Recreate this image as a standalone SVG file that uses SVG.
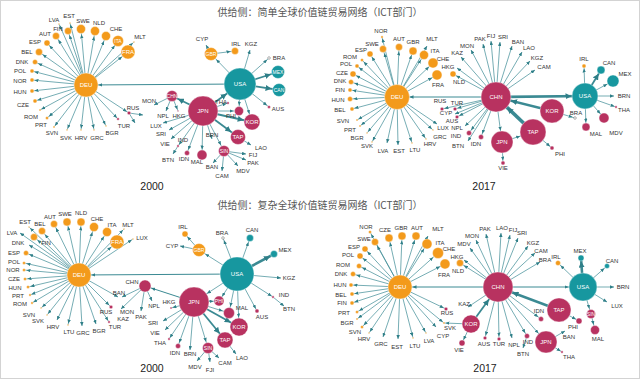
<svg xmlns="http://www.w3.org/2000/svg" width="641" height="381" viewBox="0 0 641 381">
<style>
.e{stroke:#3b8a93;stroke-width:0.7;fill:none}
.k1{stroke-width:1}
.k2{stroke-width:1.8}
.k3{stroke-width:2.6}
.k4{stroke-width:3.6}
.o{fill:#f39a1b;stroke:#fff;stroke-width:0.4}
.t{fill:#17979f;stroke:#fff;stroke-width:0.4}
.c{fill:#b83260;stroke:#fff;stroke-width:0.4}
.h{fill:#fff;stroke:#666;stroke-width:0.5}
text{font-family:"Liberation Sans",Arial,sans-serif;font-size:6px;fill:#333;text-anchor:middle}
text.w{fill:#fff}
text.s{font-size:5px}
text.y{font-size:10.5px;fill:#222}
text.ti{font-family:"Noto Sans CJK SC","Liberation Sans",sans-serif;font-size:10px;fill:#555}
</style>
<defs>
<path id="ah" d="M0,0 L4,1.75 L0,3.5 z" fill="#2f7f88"/>
<path id="bh" d="M0,0 L6,3 L0,6 z" fill="#2f7f88"/>
<marker id="m0" markerUnits="userSpaceOnUse" markerWidth="4" markerHeight="3.5" refX="4" refY="1.75" orient="auto"><use href="#ah"/></marker>
<marker id="m1" markerUnits="userSpaceOnUse" markerWidth="4" markerHeight="3.5" refX="5.5" refY="1.75" orient="auto"><use href="#ah"/></marker>
<marker id="m2" markerUnits="userSpaceOnUse" markerWidth="4" markerHeight="3.5" refX="6.5" refY="1.75" orient="auto"><use href="#ah"/></marker>
<marker id="m3" markerUnits="userSpaceOnUse" markerWidth="4" markerHeight="3.5" refX="7.5" refY="1.75" orient="auto"><use href="#ah"/></marker>
<marker id="m4" markerUnits="userSpaceOnUse" markerWidth="4" markerHeight="3.5" refX="8.5" refY="1.75" orient="auto"><use href="#ah"/></marker>
<marker id="m5" markerUnits="userSpaceOnUse" markerWidth="4" markerHeight="3.5" refX="9.5" refY="1.75" orient="auto"><use href="#ah"/></marker>
<marker id="m6" markerUnits="userSpaceOnUse" markerWidth="4" markerHeight="3.5" refX="10.5" refY="1.75" orient="auto"><use href="#ah"/></marker>
<marker id="m7" markerUnits="userSpaceOnUse" markerWidth="4" markerHeight="3.5" refX="11.5" refY="1.75" orient="auto"><use href="#ah"/></marker>
<marker id="m8" markerUnits="userSpaceOnUse" markerWidth="4" markerHeight="3.5" refX="12.5" refY="1.75" orient="auto"><use href="#ah"/></marker>
<marker id="m9" markerUnits="userSpaceOnUse" markerWidth="4" markerHeight="3.5" refX="13.5" refY="1.75" orient="auto"><use href="#ah"/></marker>
<marker id="m11" markerUnits="userSpaceOnUse" markerWidth="4" markerHeight="3.5" refX="15.5" refY="1.75" orient="auto"><use href="#ah"/></marker>
<marker id="m12" markerUnits="userSpaceOnUse" markerWidth="4" markerHeight="3.5" refX="16.5" refY="1.75" orient="auto"><use href="#ah"/></marker>
<marker id="m13" markerUnits="userSpaceOnUse" markerWidth="4" markerHeight="3.5" refX="17.5" refY="1.75" orient="auto"><use href="#ah"/></marker>
<marker id="m14" markerUnits="userSpaceOnUse" markerWidth="4" markerHeight="3.5" refX="18.5" refY="1.75" orient="auto"><use href="#ah"/></marker>
<marker id="m15" markerUnits="userSpaceOnUse" markerWidth="4" markerHeight="3.5" refX="19.5" refY="1.75" orient="auto"><use href="#ah"/></marker>
<marker id="m17" markerUnits="userSpaceOnUse" markerWidth="4" markerHeight="3.5" refX="21.5" refY="1.75" orient="auto"><use href="#ah"/></marker>
<marker id="b3" markerUnits="userSpaceOnUse" markerWidth="6" markerHeight="6" refX="9.5" refY="3" orient="auto"><use href="#bh"/></marker>
<marker id="b4" markerUnits="userSpaceOnUse" markerWidth="6" markerHeight="6" refX="10.5" refY="3" orient="auto"><use href="#bh"/></marker>
<marker id="b6" markerUnits="userSpaceOnUse" markerWidth="6" markerHeight="6" refX="12.5" refY="3" orient="auto"><use href="#bh"/></marker>
<marker id="b7" markerUnits="userSpaceOnUse" markerWidth="6" markerHeight="6" refX="13.5" refY="3" orient="auto"><use href="#bh"/></marker>
<marker id="b8" markerUnits="userSpaceOnUse" markerWidth="6" markerHeight="6" refX="14.5" refY="3" orient="auto"><use href="#bh"/></marker>
<marker id="b9" markerUnits="userSpaceOnUse" markerWidth="6" markerHeight="6" refX="15.5" refY="3" orient="auto"><use href="#bh"/></marker>
<marker id="b13" markerUnits="userSpaceOnUse" markerWidth="6" markerHeight="6" refX="19.5" refY="3" orient="auto"><use href="#bh"/></marker>
<marker id="b15" markerUnits="userSpaceOnUse" markerWidth="6" markerHeight="6" refX="21.5" refY="3" orient="auto"><use href="#bh"/></marker>
<marker id="b16" markerUnits="userSpaceOnUse" markerWidth="6" markerHeight="6" refX="22.5" refY="3" orient="auto"><use href="#bh"/></marker>
</defs>
<rect x="0.5" y="0.5" width="639" height="378" fill="#fff" stroke="#d3d3d3"/>
<text class="ti" x="320" y="16">供给侧：简单全球价值链贸易网络（ICT部门）</text>
<text class="ti" x="320" y="209">供给侧：复杂全球价值链贸易网络（ICT部门）</text>
<text class="y" x="152" y="190">2000</text>
<text class="y" x="484" y="190">2017</text>
<text class="y" x="152" y="372">2000</text>
<text class="y" x="485" y="372">2017</text>

<g id="connectors">
<!-- panel 1 -->
<g id="p1-edges">
<line class="e" x1="86" y1="85" x2="59" y2="24" marker-end="url(#m1)"/>
<line class="e" x1="86" y1="85" x2="70" y2="23" marker-end="url(#m1)"/>
<line class="e" x1="86" y1="85" x2="68" y2="31" marker-end="url(#m4)"/>
<line class="e" x1="86" y1="85" x2="56" y2="36" marker-end="url(#m4)"/>
<line class="e" x1="86" y1="85" x2="81" y2="29" marker-end="url(#m5)"/>
<line class="e" x1="86" y1="85" x2="95" y2="31" marker-end="url(#m5)"/>
<line class="e" x1="86" y1="85" x2="106" y2="36" marker-end="url(#m5)"/>
<line class="e" x1="86" y1="85" x2="118" y2="41" marker-end="url(#m5)"/>
<line class="e" x1="86" y1="85" x2="128" y2="52" marker-end="url(#m7)"/>
<line class="e" x1="86" y1="85" x2="134" y2="42" marker-end="url(#m1)"/>
<line class="e" x1="86" y1="85" x2="47" y2="43" marker-end="url(#m3)"/>
<line class="e" x1="86" y1="85" x2="39" y2="52" marker-end="url(#m4)"/>
<line class="e" x1="86" y1="85" x2="35" y2="62" marker-end="url(#m3)"/>
<line class="e" x1="86" y1="85" x2="32" y2="71" marker-end="url(#m2)"/>
<line class="e" x1="86" y1="85" x2="32" y2="80" marker-end="url(#m2)"/>
<line class="e" x1="86" y1="85" x2="32" y2="91" marker-end="url(#m2)"/>
<line class="e" x1="86" y1="85" x2="35" y2="101" marker-end="url(#m2)"/>
<line class="e" x1="86" y1="85" x2="40" y2="110" marker-end="url(#m1)"/>
<line class="e" x1="86" y1="85" x2="47" y2="118" marker-end="url(#m2)"/>
<line class="e" x1="86" y1="85" x2="54" y2="127" marker-end="url(#m1)"/>
<line class="e" x1="86" y1="85" x2="67" y2="130" marker-end="url(#m1)"/>
<line class="e" x1="86" y1="85" x2="81" y2="130" marker-end="url(#m1)"/>
<line class="e" x1="86" y1="85" x2="94" y2="130" marker-end="url(#m1)"/>
<line class="e" x1="86" y1="85" x2="106" y2="126" marker-end="url(#m1)"/>
<line class="e" x1="86" y1="85" x2="118" y2="119" marker-end="url(#m1)"/>
<line class="e" x1="86" y1="85" x2="129" y2="113" marker-end="url(#m2)"/>
<line class="e" x1="129" y1="113" x2="143" y2="115" marker-end="url(#m0)"/>
<line class="e" x1="129" y1="113" x2="135" y2="123" marker-end="url(#m0)"/>
<line class="e k1" x1="240" y1="84" x2="86" y2="85" marker-end="url(#m12)"/>
<line class="e" x1="240" y1="84" x2="211" y2="54" marker-end="url(#m7)"/>
<line class="e" x1="211" y1="54" x2="206" y2="45" marker-end="url(#m0)"/>
<line class="e" x1="211" y1="54" x2="235" y2="51" marker-end="url(#m4)"/>
<line class="e" x1="240" y1="84" x2="250" y2="50" marker-end="url(#m0)"/>
<line class="e" x1="240" y1="84" x2="269" y2="58" marker-end="url(#m2)"/>
<line class="e k2" x1="240" y1="84" x2="278" y2="72" marker-end="url(#b7)"/>
<line class="e k2" x1="240" y1="84" x2="279" y2="90" marker-end="url(#b7)"/>
<line class="e" x1="240" y1="84" x2="269" y2="107" marker-end="url(#m2)"/>
<line class="e" x1="240" y1="84" x2="252" y2="122" marker-end="url(#m8)"/>
<line class="e" x1="240" y1="84" x2="239" y2="111" marker-end="url(#m5)"/>
<line class="e k2" x1="203" y1="111" x2="240" y2="84" marker-end="url(#b16)"/>
<line class="e k2" x1="203" y1="111" x2="172" y2="96" marker-end="url(#b6)"/>
<line class="e" x1="172" y1="96" x2="154" y2="105" marker-end="url(#m0)"/>
<line class="e" x1="172" y1="96" x2="166" y2="111" marker-end="url(#m0)"/>
<line class="e" x1="172" y1="96" x2="178" y2="111" marker-end="url(#m1)"/>
<line class="e" x1="203" y1="111" x2="163" y2="123" marker-end="url(#m0)"/>
<line class="e" x1="203" y1="111" x2="169" y2="130" marker-end="url(#m0)"/>
<line class="e" x1="203" y1="111" x2="171" y2="139" marker-end="url(#m0)"/>
<line class="e" x1="203" y1="111" x2="178" y2="146" marker-end="url(#m1)"/>
<line class="e" x1="178" y1="146" x2="173" y2="154" marker-end="url(#m0)"/>
<line class="e" x1="203" y1="111" x2="187" y2="153" marker-end="url(#m3)"/>
<line class="e" x1="203" y1="111" x2="202" y2="155" marker-end="url(#m5)"/>
<line class="e" x1="203" y1="111" x2="212" y2="139" marker-end="url(#m0)"/>
<line class="e" x1="203" y1="111" x2="224" y2="151" marker-end="url(#m6)"/>
<line class="e k2" x1="203" y1="111" x2="238" y2="137" marker-end="url(#b8)"/>
<line class="e k2" x1="203" y1="111" x2="252" y2="122" marker-end="url(#b8)"/>
<line class="e" x1="203" y1="111" x2="239" y2="111" marker-end="url(#m5)"/>
<line class="e" x1="203" y1="111" x2="228" y2="103" marker-end="url(#m1)"/>
<line class="e" x1="224" y1="151" x2="213" y2="163" marker-end="url(#m0)"/>
<line class="e" x1="224" y1="151" x2="222" y2="171" marker-end="url(#m0)"/>
<line class="e" x1="224" y1="151" x2="238" y2="166" marker-end="url(#m0)"/>
<line class="e" x1="224" y1="151" x2="246" y2="160" marker-end="url(#m0)"/>
<line class="e" x1="224" y1="151" x2="246" y2="154" marker-end="url(#m0)"/>
<line class="e" x1="238" y1="137" x2="251" y2="145" marker-end="url(#m0)"/>
</g>
<!-- panel 2 -->
<g id="p2-edges">
<line class="e" x1="397" y1="97" x2="382" y2="37" marker-end="url(#m1)"/>
<line class="e" x1="397" y1="97" x2="383" y2="49" marker-end="url(#m4)"/>
<line class="e" x1="397" y1="97" x2="370" y2="54" marker-end="url(#m3)"/>
<line class="e" x1="397" y1="97" x2="362" y2="60" marker-end="url(#m2)"/>
<line class="e" x1="397" y1="97" x2="357" y2="66" marker-end="url(#m2)"/>
<line class="e" x1="397" y1="97" x2="353" y2="74" marker-end="url(#m3)"/>
<line class="e" x1="397" y1="97" x2="351" y2="82" marker-end="url(#m3)"/>
<line class="e" x1="397" y1="97" x2="350" y2="90" marker-end="url(#m2)"/>
<line class="e" x1="397" y1="97" x2="350" y2="99" marker-end="url(#m3)"/>
<line class="e" x1="397" y1="97" x2="352" y2="109" marker-end="url(#m2)"/>
<line class="e" x1="397" y1="97" x2="357" y2="120" marker-end="url(#m1)"/>
<line class="e" x1="397" y1="97" x2="360" y2="126" marker-end="url(#m1)"/>
<line class="e" x1="397" y1="97" x2="367" y2="133" marker-end="url(#m1)"/>
<line class="e" x1="397" y1="97" x2="372" y2="142" marker-end="url(#m1)"/>
<line class="e" x1="397" y1="97" x2="387" y2="143" marker-end="url(#m0)"/>
<line class="e" x1="397" y1="97" x2="398" y2="145" marker-end="url(#m0)"/>
<line class="e" x1="397" y1="97" x2="412" y2="143" marker-end="url(#m1)"/>
<line class="e" x1="397" y1="97" x2="426" y2="139" marker-end="url(#m1)"/>
<line class="e" x1="397" y1="97" x2="433" y2="130" marker-end="url(#m1)"/>
<line class="e" x1="397" y1="97" x2="437" y2="124" marker-end="url(#m0)"/>
<line class="e" x1="397" y1="97" x2="399" y2="47" marker-end="url(#m4)"/>
<line class="e" x1="397" y1="97" x2="413" y2="51" marker-end="url(#m4)"/>
<line class="e" x1="397" y1="97" x2="427" y2="46" marker-end="url(#m0)"/>
<line class="e" x1="397" y1="97" x2="424" y2="55" marker-end="url(#m5)"/>
<line class="e" x1="397" y1="97" x2="433" y2="63" marker-end="url(#m5)"/>
<line class="e" x1="397" y1="97" x2="437" y2="75" marker-end="url(#m5)"/>
<line class="e k1" x1="496" y1="97" x2="397" y2="97" marker-end="url(#m12)"/>
<line class="e" x1="496" y1="97" x2="453" y2="74" marker-end="url(#m3)"/>
<line class="e" x1="496" y1="97" x2="457" y2="68" marker-end="url(#m0)"/>
<line class="e" x1="496" y1="97" x2="461" y2="57" marker-end="url(#m0)"/>
<line class="e" x1="496" y1="97" x2="471" y2="50" marker-end="url(#m0)"/>
<line class="e" x1="496" y1="97" x2="483" y2="44" marker-end="url(#m0)"/>
<line class="e" x1="496" y1="97" x2="491" y2="41" marker-end="url(#m0)"/>
<line class="e" x1="496" y1="97" x2="500" y2="42" marker-end="url(#m0)"/>
<line class="e" x1="496" y1="97" x2="512" y2="46" marker-end="url(#m0)"/>
<line class="e" x1="496" y1="97" x2="522" y2="52" marker-end="url(#m0)"/>
<line class="e" x1="496" y1="97" x2="530" y2="61" marker-end="url(#m0)"/>
<line class="e" x1="496" y1="97" x2="535" y2="70" marker-end="url(#m0)"/>
<line class="e" x1="496" y1="97" x2="442" y2="109" marker-end="url(#m2)"/>
<line class="e" x1="496" y1="97" x2="455" y2="109" marker-end="url(#m2)"/>
<line class="e" x1="496" y1="97" x2="455" y2="114" marker-end="url(#m0)"/>
<line class="e" x1="496" y1="97" x2="457" y2="117" marker-end="url(#m2)"/>
<line class="e" x1="496" y1="97" x2="465" y2="126" marker-end="url(#m0)"/>
<line class="e" x1="496" y1="97" x2="469" y2="133" marker-end="url(#m3)"/>
<line class="e" x1="496" y1="97" x2="468" y2="141" marker-end="url(#m0)"/>
<line class="e" x1="496" y1="97" x2="481" y2="137" marker-end="url(#m3)"/>
<line class="e" x1="496" y1="97" x2="502" y2="142" marker-end="url(#m11)"/>
<line class="e k3" x1="496" y1="97" x2="585" y2="96" marker-end="url(#b13)"/>
<line class="e k3" x1="552" y1="111" x2="496" y2="97" marker-end="url(#b15)"/>
<line class="e k4" x1="533" y1="132" x2="496" y2="97" marker-end="url(#b15)"/>
<line class="e" x1="502" y1="142" x2="533" y2="132" marker-end="url(#m13)"/>
<line class="e" x1="552" y1="111" x2="575" y2="118" marker-end="url(#m2)"/>
<line class="e" x1="533" y1="132" x2="552" y2="148" marker-end="url(#m2)"/>
<line class="e" x1="502" y1="142" x2="503" y2="163" marker-end="url(#m2)"/>
<line class="e" x1="585" y1="96" x2="584" y2="66" marker-end="url(#m2)"/>
<line class="e k2" x1="585" y1="96" x2="601" y2="70" marker-end="url(#b4)"/>
<line class="e" x1="585" y1="96" x2="613" y2="81" marker-end="url(#m6)"/>
<line class="e" x1="585" y1="96" x2="614" y2="96" marker-end="url(#m0)"/>
<line class="e" x1="585" y1="96" x2="616" y2="107" marker-end="url(#m1)"/>
<line class="e" x1="585" y1="96" x2="586" y2="127" marker-end="url(#m4)"/>
<line class="e" x1="585" y1="96" x2="604" y2="118" marker-end="url(#m5)"/>
</g>
<!-- panel 3 -->
<g id="p3-edges">
<line class="e" x1="79" y1="275" x2="29" y2="227" marker-end="url(#m1)"/>
<line class="e" x1="79" y1="275" x2="20" y2="233" marker-end="url(#m0)"/>
<line class="e" x1="79" y1="275" x2="42" y2="231" marker-end="url(#m4)"/>
<line class="e" x1="79" y1="275" x2="34" y2="237" marker-end="url(#m4)"/>
<line class="e" x1="79" y1="275" x2="54" y2="224" marker-end="url(#m4)"/>
<line class="e" x1="79" y1="275" x2="67" y2="222" marker-end="url(#m4)"/>
<line class="e" x1="79" y1="275" x2="81" y2="222" marker-end="url(#m4)"/>
<line class="e" x1="79" y1="275" x2="94" y2="227" marker-end="url(#m5)"/>
<line class="e" x1="79" y1="275" x2="107" y2="232" marker-end="url(#m5)"/>
<line class="e" x1="79" y1="275" x2="124" y2="229" marker-end="url(#m1)"/>
<line class="e" x1="79" y1="275" x2="117" y2="242" marker-end="url(#m7)"/>
<line class="e" x1="79" y1="275" x2="133" y2="239" marker-end="url(#m1)"/>
<line class="e" x1="79" y1="275" x2="29" y2="245" marker-end="url(#m0)"/>
<line class="e" x1="79" y1="275" x2="26" y2="253" marker-end="url(#m3)"/>
<line class="e" x1="79" y1="275" x2="24" y2="263" marker-end="url(#m2)"/>
<line class="e" x1="79" y1="275" x2="24" y2="270" marker-end="url(#m2)"/>
<line class="e" x1="79" y1="275" x2="25" y2="279" marker-end="url(#m2)"/>
<line class="e" x1="79" y1="275" x2="28" y2="287" marker-end="url(#m2)"/>
<line class="e" x1="79" y1="275" x2="30" y2="295" marker-end="url(#m1)"/>
<line class="e" x1="79" y1="275" x2="32" y2="303" marker-end="url(#m1)"/>
<line class="e" x1="79" y1="275" x2="41" y2="308" marker-end="url(#m1)"/>
<line class="e" x1="79" y1="275" x2="47" y2="315" marker-end="url(#m1)"/>
<line class="e" x1="79" y1="275" x2="57" y2="320" marker-end="url(#m0)"/>
<line class="e" x1="79" y1="275" x2="68" y2="325" marker-end="url(#m1)"/>
<line class="e" x1="79" y1="275" x2="82" y2="326" marker-end="url(#m0)"/>
<line class="e" x1="79" y1="275" x2="96" y2="324" marker-end="url(#m0)"/>
<line class="e" x1="79" y1="275" x2="109" y2="322" marker-end="url(#m1)"/>
<line class="e" x1="79" y1="275" x2="111" y2="307" marker-end="url(#m2)"/>
<line class="e" x1="79" y1="275" x2="118" y2="297" marker-end="url(#m0)"/>
<line class="e" x1="145" y1="286" x2="122" y2="297" marker-end="url(#m0)"/>
<line class="e" x1="145" y1="286" x2="121" y2="309" marker-end="url(#m0)"/>
<line class="e" x1="145" y1="286" x2="141" y2="311" marker-end="url(#m0)"/>
<line class="e" x1="145" y1="286" x2="152" y2="301" marker-end="url(#m0)"/>
<line class="e k1" x1="194" y1="302" x2="145" y2="286" marker-end="url(#m6)"/>
<line class="e k1" x1="237" y1="274" x2="79" y2="275" marker-end="url(#m12)"/>
<line class="e" x1="194" y1="302" x2="171" y2="308" marker-end="url(#m1)"/>
<line class="e" x1="194" y1="302" x2="163" y2="321" marker-end="url(#m0)"/>
<line class="e" x1="194" y1="302" x2="165" y2="330" marker-end="url(#m0)"/>
<line class="e" x1="194" y1="302" x2="169" y2="339" marker-end="url(#m1)"/>
<line class="e" x1="194" y1="302" x2="178" y2="346" marker-end="url(#m3)"/>
<line class="e" x1="194" y1="302" x2="190" y2="350" marker-end="url(#m0)"/>
<line class="e" x1="194" y1="302" x2="208" y2="348" marker-end="url(#m6)"/>
<line class="e k2" x1="194" y1="302" x2="225" y2="340" marker-end="url(#b8)"/>
<line class="e k2" x1="194" y1="302" x2="239" y2="327" marker-end="url(#b9)"/>
<line class="e" x1="194" y1="302" x2="229" y2="313" marker-end="url(#m6)"/>
<line class="e" x1="194" y1="302" x2="219" y2="301" marker-end="url(#m5)"/>
<line class="e" x1="208" y1="348" x2="197" y2="361" marker-end="url(#m0)"/>
<line class="e" x1="208" y1="348" x2="210" y2="362" marker-end="url(#m0)"/>
<line class="e" x1="208" y1="348" x2="219" y2="358" marker-end="url(#m0)"/>
<line class="e" x1="225" y1="340" x2="236" y2="354" marker-end="url(#m0)"/>
<line class="e" x1="237" y1="274" x2="199" y2="250" marker-end="url(#m7)"/>
<line class="e" x1="199" y1="250" x2="185" y2="234" marker-end="url(#m3)"/>
<line class="e" x1="199" y1="250" x2="180" y2="246" marker-end="url(#m0)"/>
<line class="e" x1="237" y1="274" x2="223" y2="238" marker-end="url(#m2)"/>
<line class="e" x1="237" y1="274" x2="250" y2="238" marker-end="url(#m4)"/>
<line class="e k3" x1="237" y1="274" x2="274" y2="254" marker-end="url(#b4)"/>
<line class="e" x1="237" y1="274" x2="281" y2="278" marker-end="url(#m0)"/>
<line class="e" x1="237" y1="274" x2="273" y2="297" marker-end="url(#m1)"/>
<line class="e" x1="273" y1="297" x2="284" y2="306" marker-end="url(#m0)"/>
<line class="e" x1="237" y1="274" x2="257" y2="311" marker-end="url(#m2)"/>
<line class="e" x1="237" y1="274" x2="229" y2="313" marker-end="url(#m6)"/>
<line class="e" x1="237" y1="274" x2="239" y2="327" marker-end="url(#m9)"/>
<line class="e" x1="237" y1="274" x2="219" y2="301" marker-end="url(#m5)"/>
<line class="e" x1="237" y1="274" x2="194" y2="302" marker-end="url(#m15)"/>
</g>
<!-- panel 4 -->
<g id="p4-edges">
<line class="e" x1="400" y1="287" x2="370" y2="232" marker-end="url(#m2)"/>
<line class="e" x1="400" y1="287" x2="375" y2="242" marker-end="url(#m4)"/>
<line class="e" x1="400" y1="287" x2="389" y2="238" marker-end="url(#m4)"/>
<line class="e" x1="400" y1="287" x2="402" y2="236" marker-end="url(#m4)"/>
<line class="e" x1="400" y1="287" x2="416" y2="236" marker-end="url(#m4)"/>
<line class="e" x1="400" y1="287" x2="428" y2="236" marker-end="url(#m0)"/>
<line class="e" x1="400" y1="287" x2="427" y2="244" marker-end="url(#m5)"/>
<line class="e" x1="400" y1="287" x2="438" y2="253" marker-end="url(#m6)"/>
<line class="e" x1="400" y1="287" x2="445" y2="264" marker-end="url(#m5)"/>
<line class="e" x1="400" y1="287" x2="365" y2="249" marker-end="url(#m3)"/>
<line class="e" x1="400" y1="287" x2="360" y2="256" marker-end="url(#m3)"/>
<line class="e" x1="400" y1="287" x2="359" y2="266" marker-end="url(#m3)"/>
<line class="e" x1="400" y1="287" x2="353" y2="274" marker-end="url(#m3)"/>
<line class="e" x1="400" y1="287" x2="351" y2="285" marker-end="url(#m2)"/>
<line class="e" x1="400" y1="287" x2="352" y2="294" marker-end="url(#m2)"/>
<line class="e" x1="400" y1="287" x2="352" y2="303" marker-end="url(#m2)"/>
<line class="e" x1="400" y1="287" x2="357" y2="312" marker-end="url(#m2)"/>
<line class="e" x1="400" y1="287" x2="357" y2="319" marker-end="url(#m1)"/>
<line class="e" x1="400" y1="287" x2="362" y2="327" marker-end="url(#m2)"/>
<line class="e" x1="400" y1="287" x2="369" y2="333" marker-end="url(#m1)"/>
<line class="e" x1="400" y1="287" x2="383" y2="337" marker-end="url(#m0)"/>
<line class="e" x1="400" y1="287" x2="398" y2="339" marker-end="url(#m0)"/>
<line class="e" x1="400" y1="287" x2="413" y2="338" marker-end="url(#m1)"/>
<line class="e" x1="400" y1="287" x2="426" y2="333" marker-end="url(#m1)"/>
<line class="e" x1="400" y1="287" x2="436" y2="327" marker-end="url(#m0)"/>
<line class="e" x1="400" y1="287" x2="444" y2="323" marker-end="url(#m1)"/>
<line class="e" x1="400" y1="287" x2="446" y2="309" marker-end="url(#m2)"/>
<line class="e k1" x1="498" y1="287" x2="400" y2="287" marker-end="url(#m12)"/>
<line class="e" x1="498" y1="287" x2="460" y2="263" marker-end="url(#m4)"/>
<line class="e" x1="498" y1="287" x2="464" y2="260" marker-end="url(#m0)"/>
<line class="e" x1="498" y1="287" x2="470" y2="248" marker-end="url(#m0)"/>
<line class="e" x1="498" y1="287" x2="476" y2="240" marker-end="url(#m0)"/>
<line class="e" x1="498" y1="287" x2="486" y2="234" marker-end="url(#m0)"/>
<line class="e" x1="498" y1="287" x2="501" y2="233" marker-end="url(#m0)"/>
<line class="e" x1="498" y1="287" x2="510" y2="235" marker-end="url(#m0)"/>
<line class="e" x1="498" y1="287" x2="518" y2="238" marker-end="url(#m0)"/>
<line class="e" x1="498" y1="287" x2="528" y2="246" marker-end="url(#m0)"/>
<line class="e" x1="498" y1="287" x2="535" y2="253" marker-end="url(#m0)"/>
<line class="e" x1="498" y1="287" x2="540" y2="262" marker-end="url(#m0)"/>
<line class="e" x1="498" y1="287" x2="468" y2="307" marker-end="url(#m0)"/>
<line class="e" x1="498" y1="287" x2="485" y2="338" marker-end="url(#m2)"/>
<line class="e" x1="498" y1="287" x2="499" y2="339" marker-end="url(#m2)"/>
<line class="e" x1="498" y1="287" x2="512" y2="338" marker-end="url(#m0)"/>
<line class="e" x1="498" y1="287" x2="527" y2="336" marker-end="url(#m3)"/>
<line class="e" x1="527" y1="336" x2="523" y2="348" marker-end="url(#m0)"/>
<line class="e" x1="498" y1="287" x2="541" y2="319" marker-end="url(#m3)"/>
<line class="e" x1="498" y1="287" x2="546" y2="342" marker-end="url(#m11)"/>
<line class="e k1" x1="498" y1="287" x2="583" y2="287" marker-end="url(#m14)"/>
<line class="e k2" x1="471" y1="324" x2="498" y2="287" marker-end="url(#b15)"/>
<line class="e" x1="471" y1="324" x2="462" y2="343" marker-end="url(#m3)"/>
<line class="e" x1="471" y1="324" x2="444" y2="323" marker-end="url(#m1)"/>
<line class="e k3" x1="559" y1="310" x2="498" y2="287" marker-end="url(#b15)"/>
<line class="e" x1="559" y1="310" x2="579" y2="321" marker-end="url(#m3)"/>
<line class="e" x1="546" y1="342" x2="565" y2="331" marker-end="url(#m0)"/>
<line class="e" x1="546" y1="342" x2="562" y2="352" marker-end="url(#m1)"/>
<line class="e" x1="583" y1="287" x2="558" y2="263" marker-end="url(#m3)"/>
<line class="e k3" x1="583" y1="287" x2="581" y2="258" marker-end="url(#b3)"/>
<line class="e" x1="583" y1="287" x2="607" y2="266" marker-end="url(#m3)"/>
<line class="e" x1="583" y1="287" x2="614" y2="287" marker-end="url(#m0)"/>
<line class="e" x1="583" y1="287" x2="607" y2="302" marker-end="url(#m0)"/>
<line class="e" x1="583" y1="287" x2="591" y2="314" marker-end="url(#m5)"/>
<line class="e" x1="591" y1="314" x2="595" y2="330" marker-end="url(#m5)"/>
</g>
</g>

<!-- ===== Panel 1 nodes ===== -->
<g id="p1-nodes">
<g id="p1-DEU"><circle class="o" cx="86" cy="85" r="12"/><text class="w" x="86" y="87">DEU</text></g>
<g id="p1-LVA"><circle class="o" cx="59" cy="24" r="0.8"/><text x="54" y="22">LVA</text></g>
<g id="p1-EST"><circle class="o" cx="70" cy="23" r="0.8"/><text x="69" y="18">EST</text></g>
<g id="p1-FIN"><circle class="o" cx="68" cy="31" r="3.5"/><text x="58" y="31">FIN</text></g>
<g id="p1-AUT"><circle class="o" cx="56" cy="36" r="3.5"/><text x="45" y="36">AUT</text></g>
<g id="p1-SWE"><circle class="o" cx="81" cy="29" r="4.5"/><text x="83" y="23">SWE</text></g>
<g id="p1-NLD"><circle class="o" cx="95" cy="31" r="4.5"/><text x="99" y="25">NLD</text></g>
<g id="p1-CHE"><circle class="o" cx="106" cy="36" r="4.5"/><text x="116" y="31">CHE</text></g>
<g id="p1-ITA"><circle class="o" cx="118" cy="41" r="5.5"/><text class="w s" x="118" y="43">ITA</text></g>
<g id="p1-FRA"><circle class="o" cx="128" cy="52" r="7"/><text class="w" x="128" y="54">FRA</text></g>
<g id="p1-MLT"><circle class="o" cx="134" cy="42" r="0.8"/><text x="140" y="39">MLT</text></g>
<g id="p1-ESP"><circle class="o" cx="47" cy="43" r="3"/><text x="35" y="44">ESP</text></g>
<g id="p1-BEL"><circle class="o" cx="39" cy="52" r="3.5"/><text x="27" y="54">BEL</text></g>
<g id="p1-DNK"><circle class="o" cx="35" cy="62" r="2.5"/><text x="22" y="64">DNK</text></g>
<g id="p1-POL"><circle class="o" cx="32" cy="71" r="2"/><text x="20" y="73">POL</text></g>
<g id="p1-NOR"><circle class="o" cx="32" cy="80" r="2"/><text x="20" y="83">NOR</text></g>
<g id="p1-HUN"><circle class="o" cx="32" cy="91" r="2"/><text x="20" y="94">HUN</text></g>
<g id="p1-CZE"><circle class="o" cx="35" cy="101" r="2"/><text x="23" y="107">CZE</text></g>
<g id="p1-ROM"><circle class="o" cx="40" cy="110" r="1"/><text x="31" y="119">ROM</text></g>
<g id="p1-PRT"><circle class="o" cx="47" cy="118" r="1.5"/><text x="41" y="127">PRT</text></g>
<g id="p1-SVN"><circle class="o" cx="54" cy="127" r="1"/><text x="52" y="135">SVN</text></g>
<g id="p1-SVK"><circle class="o" cx="67" cy="130" r="0.8"/><text x="66" y="140">SVK</text></g>
<g id="p1-HRV"><circle class="o" cx="81" cy="130" r="0.8"/><text x="81" y="140">HRV</text></g>
<g id="p1-GRC"><circle class="o" cx="94" cy="130" r="0.8"/><text x="97" y="140">GRC</text></g>
<g id="p1-BGR"><circle class="o" cx="106" cy="126" r="0.8"/><text x="112" y="135">BGR</text></g>
<g id="p1-TUR"><circle class="c" cx="118" cy="119" r="1.3"/><text x="124" y="128">TUR</text></g>
<g id="p1-RUS"><circle class="c" cx="129" cy="113" r="1.8"/><text x="133" y="110">RUS</text></g>
<g id="p1-USA"><circle class="t" cx="240" cy="84" r="16"/><text class="w" x="240" y="86">USA</text></g>
<g id="p1-GBR"><circle class="o" cx="211" cy="54" r="6.5"/><text class="w s" x="211" y="56">GBR</text></g>
<g id="p1-CYP"><text x="202" y="41">CYP</text></g>
<g id="p1-IRL"><circle class="o" cx="235" cy="51" r="3.5"/><text x="236" y="46">IRL</text></g>
<g id="p1-KGZ"><text x="251" y="46">KGZ</text></g>
<g id="p1-BRA"><circle class="h" cx="269" cy="58" r="1.3"/><text x="279" y="60">BRA</text></g>
<g id="p1-MEX"><circle class="t" cx="278" cy="72" r="6.5"/><text class="w s" x="278" y="74">MEX</text></g>
<g id="p1-CAN"><circle class="t" cx="279" cy="90" r="6.5"/><text class="w s" x="279" y="92">CAN</text></g>
<g id="p1-AUS"><circle class="c" cx="269" cy="107" r="1.5"/><text x="278" y="111">AUS</text></g>
<g id="p1-JPN"><circle class="c" cx="203" cy="111" r="15"/><text class="w" x="203" y="113">JPN</text></g>
<g id="p1-CHN"><circle class="c" cx="172" cy="96" r="5.5"/><text class="w s" x="172" y="98">CHN</text></g>
<g id="p1-MON"><text x="149" y="103">MON</text></g>
<g id="p1-NPL"><text x="163" y="118">NPL</text></g>
<g id="p1-HKG"><circle class="c" cx="178" cy="111" r="0.8"/><text x="179" y="118">HKG</text></g>
<g id="p1-LUX"><text x="156" y="128">LUX</text></g>
<g id="p1-SRI"><text x="161" y="136">SRI</text></g>
<g id="p1-VIE"><text x="165" y="146">VIE</text></g>
<g id="p1-IND"><circle class="c" cx="178" cy="146" r="1.2"/><text x="183" y="142">IND</text></g>
<g id="p1-BTN"><text x="168" y="162">BTN</text></g>
<g id="p1-IDN"><circle class="c" cx="187" cy="153" r="2.5"/><text x="184" y="161">IDN</text></g>
<g id="p1-MAL"><circle class="c" cx="202" cy="155" r="5"/><text x="197" y="164">MAL</text></g>
<g id="p1-BRN"><text x="212" y="137">BRN</text></g>
<g id="p1-THA"><circle class="c" cx="228" cy="103" r="1.2"/><text x="221" y="104">THA</text></g>
<g id="p1-PHI"><circle class="c" cx="239" cy="111" r="4.5"/><text x="231" y="118">PHI</text></g>
<g id="p1-KOR"><circle class="c" cx="252" cy="122" r="8"/><text class="w" x="252" y="124">KOR</text></g>
<g id="p1-TAP"><circle class="c" cx="238" cy="137" r="7.5"/><text class="w" x="238" y="139">TAP</text></g>
<g id="p1-SIN"><circle class="c" cx="224" cy="151" r="5.5"/><text class="w s" x="224" y="153">SIN</text></g>
<g id="p1-LAO"><text x="261" y="150">LAO</text></g>
<g id="p1-FIJ"><text x="253" y="157">FIJ</text></g>
<g id="p1-PAK"><text x="253" y="165">PAK</text></g>
<g id="p1-MDV"><text x="243" y="173">MDV</text></g>
<g id="p1-CAM"><text x="222" y="178">CAM</text></g>
<g id="p1-BAN"><text x="212" y="169">BAN</text></g>
</g>

<!-- ===== Panel 2 nodes ===== -->
<g id="p2-nodes">
<g id="p2-DEU"><circle class="o" cx="397" cy="97" r="12.5"/><text class="w" x="397" y="99">DEU</text></g>
<g id="p2-NOR"><circle class="o" cx="382" cy="37" r="1.2"/><text x="381" y="33">NOR</text></g>
<g id="p2-SWE"><circle class="o" cx="383" cy="49" r="3.5"/><text x="372" y="46">SWE</text></g>
<g id="p2-ESP"><circle class="o" cx="370" cy="54" r="3"/><text x="361" y="52">ESP</text></g>
<g id="p2-ROM"><circle class="o" cx="362" cy="60" r="1.5"/><text x="350" y="59">ROM</text></g>
<g id="p2-POL"><circle class="o" cx="357" cy="66" r="2"/><text x="346" y="66">POL</text></g>
<g id="p2-CZE"><circle class="o" cx="353" cy="74" r="3"/><text x="342" y="75">CZE</text></g>
<g id="p2-DNK"><circle class="o" cx="351" cy="82" r="2.5"/><text x="340" y="83">DNK</text></g>
<g id="p2-FIN"><circle class="o" cx="350" cy="90" r="2"/><text x="340" y="92">FIN</text></g>
<g id="p2-HUN"><circle class="o" cx="350" cy="99" r="2.5"/><text x="338" y="102">HUN</text></g>
<g id="p2-BEL"><circle class="o" cx="352" cy="109" r="2"/><text x="340" y="112">BEL</text></g>
<g id="p2-SVN"><circle class="o" cx="357" cy="120" r="1"/><text x="343" y="123">SVN</text></g>
<g id="p2-PRT"><circle class="o" cx="360" cy="126" r="1"/><text x="350" y="132">PRT</text></g>
<g id="p2-BGR"><circle class="o" cx="367" cy="133" r="0.8"/><text x="357" y="140">BGR</text></g>
<g id="p2-SVK"><circle class="o" cx="372" cy="142" r="0.8"/><text x="367" y="148">SVK</text></g>
<g id="p2-LVA"><text x="383" y="153">LVA</text></g>
<g id="p2-EST"><text x="399" y="153">EST</text></g>
<g id="p2-LTU"><circle class="o" cx="412" cy="143" r="0.8"/><text x="415" y="152">LTU</text></g>
<g id="p2-HRV"><circle class="o" cx="426" cy="139" r="0.8"/><text x="430" y="146">HRV</text></g>
<g id="p2-GRC"><circle class="o" cx="433" cy="130" r="0.8"/><text x="440" y="139">GRC</text></g>
<g id="p2-LUX"><text x="443" y="130">LUX</text></g>
<g id="p2-AUT"><circle class="o" cx="399" cy="47" r="3.5"/><text x="399" y="41">AUT</text></g>
<g id="p2-GBR"><circle class="o" cx="413" cy="51" r="4"/><text x="413" y="44">GBR</text></g>
<g id="p2-MLT"><text x="432" y="41">MLT</text></g>
<g id="p2-ITA"><circle class="o" cx="424" cy="55" r="4.5"/><text x="435" y="53">ITA</text></g>
<g id="p2-CHE"><circle class="o" cx="433" cy="63" r="5"/><text x="443" y="61">CHE</text></g>
<g id="p2-FRA"><circle class="o" cx="437" cy="75" r="5"/><text x="438" y="87">FRA</text></g>
<g id="p2-NLD"><circle class="o" cx="453" cy="74" r="3"/><text x="459" y="84">NLD</text></g>
<g id="p2-CHN"><circle class="c" cx="496" cy="97" r="15"/><text class="w" x="496" y="99">CHN</text></g>
<g id="p2-HKG"><text x="448" y="69">HKG</text></g>
<g id="p2-KAZ"><text x="457" y="55">KAZ</text></g>
<g id="p2-MON"><text x="467" y="48">MON</text></g>
<g id="p2-PAK"><text x="480" y="41">PAK</text></g>
<g id="p2-FIJ"><text x="491" y="38">FIJ</text></g>
<g id="p2-SRI"><text x="503" y="39">SRI</text></g>
<g id="p2-BAN"><text x="518" y="44">BAN</text></g>
<g id="p2-LAO"><text x="529" y="50">LAO</text></g>
<g id="p2-KGZ"><text x="537" y="60">KGZ</text></g>
<g id="p2-CAM"><text x="544" y="69">CAM</text></g>
<g id="p2-RUS"><circle class="c" cx="442" cy="109" r="1.8"/><text x="440" y="103">RUS</text></g>
<g id="p2-TUR"><circle class="c" cx="455" cy="109" r="1.8"/><text x="457" y="105">TUR</text></g>
<g id="p2-CYP"><text x="446" y="115">CYP</text></g>
<g id="p2-AUS"><circle class="c" cx="457" cy="117" r="1.8"/><text x="452" y="123">AUS</text></g>
<g id="p2-NPL"><text x="457" y="130">NPL</text></g>
<g id="p2-IND"><circle class="c" cx="469" cy="133" r="2.5"/><text x="456" y="138">IND</text></g>
<g id="p2-BTN"><text x="458" y="148">BTN</text></g>
<g id="p2-IDN"><circle class="c" cx="481" cy="137" r="2.5"/><text x="476" y="146">IDN</text></g>
<g id="p2-JPN"><circle class="c" cx="502" cy="142" r="11"/><text class="w" x="502" y="144">JPN</text></g>
<g id="p2-VIE"><circle class="c" cx="503" cy="163" r="2"/><text x="503" y="170">VIE</text></g>
<g id="p2-KOR"><circle class="c" cx="552" cy="111" r="12"/><text class="w" x="552" y="113">KOR</text></g>
<g id="p2-TAP"><circle class="c" cx="533" cy="132" r="13"/><text class="w" x="533" y="134">TAP</text></g>
<g id="p2-PHI"><circle class="c" cx="552" cy="148" r="2"/><text x="560" y="156">PHI</text></g>
<g id="p2-BRA"><circle class="h" cx="575" cy="118" r="1.3"/><text x="576" y="115">BRA</text></g>
<g id="p2-USA"><circle class="t" cx="585" cy="96" r="13"/><text class="w" x="585" y="98">USA</text></g>
<g id="p2-IRL"><circle class="o" cx="584" cy="66" r="2"/><text x="584" y="61">IRL</text></g>
<g id="p2-CAN"><circle class="t" cx="601" cy="70" r="4"/><text x="609" y="65">CAN</text></g>
<g id="p2-MEX"><circle class="t" cx="613" cy="81" r="6"/><text x="625" y="76">MEX</text></g>
<g id="p2-BRN"><text x="624" y="98">BRN</text></g>
<g id="p2-THA"><circle class="c" cx="616" cy="107" r="1.2"/><text x="624" y="112">THA</text></g>
<g id="p2-MAL"><circle class="c" cx="586" cy="127" r="4"/><text x="596" y="136">MAL</text></g>
<g id="p2-MDV"><circle class="c" cx="604" cy="118" r="5"/><text x="616" y="135">MDV</text></g>
</g>

<!-- ===== Panel 3 nodes ===== -->
<g id="p3-nodes">
<g id="p3-DEU"><circle class="o" cx="79" cy="275" r="12"/><text class="w" x="79" y="277">DEU</text></g>
<g id="p3-EST"><circle class="o" cx="29" cy="227" r="0.8"/><text x="25" y="224">EST</text></g>
<g id="p3-LVA"><text x="12" y="235">LVA</text></g>
<g id="p3-BEL"><circle class="o" cx="42" cy="231" r="3.5"/><text x="40" y="226">BEL</text></g>
<g id="p3-FIN"><circle class="o" cx="34" cy="237" r="3.5"/><text x="46" y="245">FIN</text></g>
<g id="p3-AUT"><circle class="o" cx="54" cy="224" r="3.5"/><text x="50" y="219">AUT</text></g>
<g id="p3-SWE"><circle class="o" cx="67" cy="222" r="4"/><text x="65" y="216">SWE</text></g>
<g id="p3-NLD"><circle class="o" cx="81" cy="222" r="4"/><text x="81" y="215">NLD</text></g>
<g id="p3-CHE"><circle class="o" cx="94" cy="227" r="4.5"/><text x="97" y="221">CHE</text></g>
<g id="p3-ITA"><circle class="o" cx="107" cy="232" r="4.5"/><text x="112" y="227">ITA</text></g>
<g id="p3-MLT"><circle class="o" cx="124" cy="229" r="0.8"/><text x="128" y="227">MLT</text></g>
<g id="p3-FRA"><circle class="o" cx="117" cy="242" r="7"/><text class="w" x="117" y="244">FRA</text></g>
<g id="p3-LUX"><circle class="o" cx="133" cy="239" r="0.8"/><text x="142" y="240">LUX</text></g>
<g id="p3-DNK"><text x="18" y="245">DNK</text></g>
<g id="p3-ESP"><circle class="o" cx="26" cy="253" r="2.5"/><text x="14" y="255">ESP</text></g>
<g id="p3-POL"><circle class="o" cx="24" cy="263" r="1.5"/><text x="14" y="264">POL</text></g>
<g id="p3-NOR"><circle class="o" cx="24" cy="270" r="1.5"/><text x="13" y="272">NOR</text></g>
<g id="p3-CZE"><circle class="o" cx="25" cy="279" r="1.5"/><text x="14" y="281">CZE</text></g>
<g id="p3-HUN"><circle class="o" cx="28" cy="287" r="1.5"/><text x="15" y="290">HUN</text></g>
<g id="p3-PRT"><circle class="o" cx="30" cy="295" r="1.2"/><text x="18" y="298">PRT</text></g>
<g id="p3-ROM"><circle class="o" cx="32" cy="303" r="1.2"/><text x="20" y="306">ROM</text></g>
<g id="p3-SVN"><circle class="o" cx="41" cy="308" r="0.8"/><text x="29" y="317">SVN</text></g>
<g id="p3-SVK"><circle class="o" cx="47" cy="315" r="0.8"/><text x="38" y="323">SVK</text></g>
<g id="p3-HRV"><text x="53" y="329">HRV</text></g>
<g id="p3-LTU"><circle class="o" cx="68" cy="325" r="0.8"/><text x="69" y="334">LTU</text></g>
<g id="p3-GRC"><text x="83" y="335">GRC</text></g>
<g id="p3-BGR"><text x="99" y="333">BGR</text></g>
<g id="p3-TUR"><circle class="c" cx="109" cy="322" r="1.2"/><text x="115" y="329">TUR</text></g>
<g id="p3-RUS"><circle class="c" cx="111" cy="307" r="1.8"/><text x="106" y="314">RUS</text></g>
<g id="p3-BAN"><text x="119" y="295">BAN</text></g>
<g id="p3-MON"><text x="127" y="314">MON</text></g>
<g id="p3-KAZ"><text x="123" y="321">KAZ</text></g>
<g id="p3-CHN"><circle class="c" cx="145" cy="286" r="6"/><text x="132" y="284">CHN</text></g>
<g id="p3-PAK"><text x="141" y="319">PAK</text></g>
<g id="p3-NPL"><text x="154" y="308">NPL</text></g>
<g id="p3-HKG"><circle class="c" cx="171" cy="308" r="1"/><text x="169" y="304">HKG</text></g>
<g id="p3-SRI"><text x="153" y="325">SRI</text></g>
<g id="p3-VIE"><text x="155" y="335">VIE</text></g>
<g id="p3-THA"><circle class="c" cx="169" cy="339" r="1.2"/><text x="160" y="345">THA</text></g>
<g id="p3-IDN"><circle class="c" cx="178" cy="346" r="2.5"/><text x="175" y="355">IDN</text></g>
<g id="p3-BRN"><text x="190" y="356">BRN</text></g>
<g id="p3-JPN"><circle class="c" cx="194" cy="302" r="15"/><text class="w" x="194" y="304">JPN</text></g>
<g id="p3-PHI"><circle class="c" cx="219" cy="301" r="5"/><text class="w s" x="219" y="303">PHI</text></g>
<g id="p3-SIN"><circle class="c" cx="208" cy="348" r="5.5"/><text class="w s" x="208" y="350">SIN</text></g>
<g id="p3-TAP"><circle class="c" cx="225" cy="340" r="8"/><text class="w" x="225" y="342">TAP</text></g>
<g id="p3-KOR"><circle class="c" cx="239" cy="327" r="9"/><text class="w" x="239" y="329">KOR</text></g>
<g id="p3-MAL"><circle class="c" cx="229" cy="313" r="5.5"/><text x="242" y="310">MAL</text></g>
<g id="p3-MDV"><text x="195" y="369">MDV</text></g>
<g id="p3-FJI"><text x="210" y="372">FJI</text></g>
<g id="p3-CAM"><text x="225" y="365">CAM</text></g>
<g id="p3-LAO"><text x="242" y="360">LAO</text></g>
<g id="p3-USA"><circle class="t" cx="237" cy="274" r="17"/><text class="w" x="237" y="276">USA</text></g>
<g id="p3-GBR"><circle class="o" cx="199" cy="250" r="6.5"/><text class="w s" x="199" y="252">GBR</text></g>
<g id="p3-IRL"><circle class="o" cx="185" cy="234" r="3"/><text x="183" y="229">IRL</text></g>
<g id="p3-CYP"><text x="172" y="248">CYP</text></g>
<g id="p3-BRA"><circle class="h" cx="223" cy="238" r="1.3"/><text x="222" y="235">BRA</text></g>
<g id="p3-CAN"><circle class="t" cx="250" cy="238" r="3.5"/><text x="252" y="232">CAN</text></g>
<g id="p3-MEX"><circle class="t" cx="274" cy="254" r="3.5"/><text x="285" y="252">MEX</text></g>
<g id="p3-KGZ"><text x="289" y="280">KGZ</text></g>
<g id="p3-IND"><circle class="c" cx="273" cy="297" r="1.2"/><text x="284" y="297">IND</text></g>
<g id="p3-BTN"><text x="289" y="311">BTN</text></g>
<g id="p3-AUS"><circle class="c" cx="257" cy="311" r="2"/><text x="262" y="319">AUS</text></g>
</g>

<!-- ===== Panel 4 nodes ===== -->
<g id="p4-nodes">
<g id="p4-DEU"><circle class="o" cx="400" cy="287" r="12"/><text class="w" x="400" y="289">DEU</text></g>
<g id="p4-NOR"><circle class="o" cx="370" cy="232" r="1.5"/><text x="366" y="229">NOR</text></g>
<g id="p4-SWE"><circle class="o" cx="375" cy="242" r="3.5"/><text x="364" y="241">SWE</text></g>
<g id="p4-CZE"><circle class="o" cx="389" cy="238" r="4"/><text x="385" y="232">CZE</text></g>
<g id="p4-GBR"><circle class="o" cx="402" cy="236" r="4"/><text x="401" y="230">GBR</text></g>
<g id="p4-AUT"><circle class="o" cx="416" cy="236" r="4"/><text x="417" y="230">AUT</text></g>
<g id="p4-MLT"><text x="438" y="231">MLT</text></g>
<g id="p4-ITA"><circle class="o" cx="427" cy="244" r="5"/><text x="440" y="245">ITA</text></g>
<g id="p4-CHE"><circle class="o" cx="438" cy="253" r="5.5"/><text x="449" y="251">CHE</text></g>
<g id="p4-FRA"><circle class="o" cx="445" cy="264" r="5"/><text x="444" y="277">FRA</text></g>
<g id="p4-NLD"><circle class="o" cx="460" cy="263" r="3.5"/><text x="458" y="273">NLD</text></g>
<g id="p4-ESP"><circle class="o" cx="365" cy="249" r="3"/><text x="354" y="249">ESP</text></g>
<g id="p4-POL"><circle class="o" cx="360" cy="256" r="3"/><text x="348" y="257">POL</text></g>
<g id="p4-ROM"><circle class="o" cx="359" cy="266" r="2.5"/><text x="343" y="267">ROM</text></g>
<g id="p4-DNK"><circle class="o" cx="353" cy="274" r="2.5"/><text x="341" y="276">DNK</text></g>
<g id="p4-HUN"><circle class="o" cx="351" cy="285" r="2"/><text x="340" y="287">HUN</text></g>
<g id="p4-BEL"><circle class="o" cx="352" cy="294" r="2"/><text x="341" y="297">BEL</text></g>
<g id="p4-FIN"><circle class="o" cx="352" cy="303" r="2"/><text x="342" y="305">FIN</text></g>
<g id="p4-PRT"><circle class="o" cx="357" cy="312" r="1.5"/><text x="344" y="315">PRT</text></g>
<g id="p4-BGR"><circle class="o" cx="357" cy="319" r="1"/><text x="347" y="325">BGR</text></g>
<g id="p4-SVN"><circle class="o" cx="362" cy="327" r="1.5"/><text x="355" y="334">SVN</text></g>
<g id="p4-HRV"><circle class="o" cx="369" cy="333" r="0.8"/><text x="364" y="341">HRV</text></g>
<g id="p4-GRC"><text x="381" y="346">GRC</text></g>
<g id="p4-EST"><text x="397" y="349">EST</text></g>
<g id="p4-LTU"><circle class="o" cx="413" cy="338" r="0.8"/><text x="415" y="348">LTU</text></g>
<g id="p4-LVA"><circle class="o" cx="426" cy="333" r="0.8"/><text x="429" y="343">LVA</text></g>
<g id="p4-CYP"><text x="443" y="338">CYP</text></g>
<g id="p4-SVK"><circle class="o" cx="444" cy="323" r="1"/><text x="450" y="330">SVK</text></g>
<g id="p4-RUS"><circle class="c" cx="446" cy="309" r="1.8"/><text x="447" y="315">RUS</text></g>
<g id="p4-KAZ"><text x="464" y="306">KAZ</text></g>
<g id="p4-HKG"><text x="457" y="259">HKG</text></g>
<g id="p4-MDV"><text x="464" y="246">MDV</text></g>
<g id="p4-MON"><text x="472" y="238">MON</text></g>
<g id="p4-CHN"><circle class="c" cx="498" cy="287" r="15"/><text class="w" x="498" y="289">CHN</text></g>
<g id="p4-PAK"><text x="485" y="231">PAK</text></g>
<g id="p4-LAO"><text x="502" y="230">LAO</text></g>
<g id="p4-FIJ"><text x="513" y="232">FIJ</text></g>
<g id="p4-SRI"><text x="522" y="235">SRI</text></g>
<g id="p4-KGZ"><text x="533" y="245">KGZ</text></g>
<g id="p4-CAM"><text x="541" y="253">CAM</text></g>
<g id="p4-BRA"><text x="545" y="262">BRA</text></g>
<g id="p4-KOR"><circle class="c" cx="471" cy="324" r="9"/><text class="w" x="471" y="326">KOR</text></g>
<g id="p4-VIE"><circle class="c" cx="462" cy="343" r="3"/><text x="459" y="352">VIE</text></g>
<g id="p4-AUS"><circle class="c" cx="485" cy="338" r="1.8"/><text x="484" y="346">AUS</text></g>
<g id="p4-TUR"><circle class="c" cx="499" cy="339" r="1.8"/><text x="499" y="346">TUR</text></g>
<g id="p4-NPL"><text x="514" y="347">NPL</text></g>
<g id="p4-IND"><circle class="c" cx="527" cy="336" r="2.5"/><text x="528" y="344">IND</text></g>
<g id="p4-BTN"><text x="523" y="356">BTN</text></g>
<g id="p4-IDN"><circle class="c" cx="541" cy="319" r="2.5"/><text x="539" y="313">IDN</text></g>
<g id="p4-JPN"><circle class="c" cx="546" cy="342" r="11"/><text class="w" x="546" y="344">JPN</text></g>
<g id="p4-BAN"><text x="569" y="339">BAN</text></g>
<g id="p4-THA"><circle class="c" cx="562" cy="352" r="1.2"/><text x="569" y="359">THA</text></g>
<g id="p4-TAP"><circle class="c" cx="559" cy="310" r="12"/><text class="w" x="559" y="312">TAP</text></g>
<g id="p4-PHI"><circle class="c" cx="579" cy="321" r="3"/><text x="573" y="329">PHI</text></g>
<g id="p4-USA"><circle class="t" cx="583" cy="287" r="14"/><text class="w" x="583" y="289">USA</text></g>
<g id="p4-IRL"><circle class="o" cx="558" cy="263" r="2.5"/><text x="556" y="259">IRL</text></g>
<g id="p4-MEX"><circle class="t" cx="581" cy="258" r="3"/><text x="580" y="253">MEX</text></g>
<g id="p4-CAN"><circle class="t" cx="607" cy="266" r="2.5"/><text x="612" y="263">CAN</text></g>
<g id="p4-BRN"><text x="623" y="289">BRN</text></g>
<g id="p4-LUX"><text x="617" y="308">LUX</text></g>
<g id="p4-SIN"><circle class="c" cx="591" cy="314" r="4.5"/><text class="w s" x="591" y="316">SIN</text></g>
<g id="p4-MAL"><circle class="c" cx="595" cy="330" r="4.5"/><text x="598" y="341">MAL</text></g>
</g>
</svg>
